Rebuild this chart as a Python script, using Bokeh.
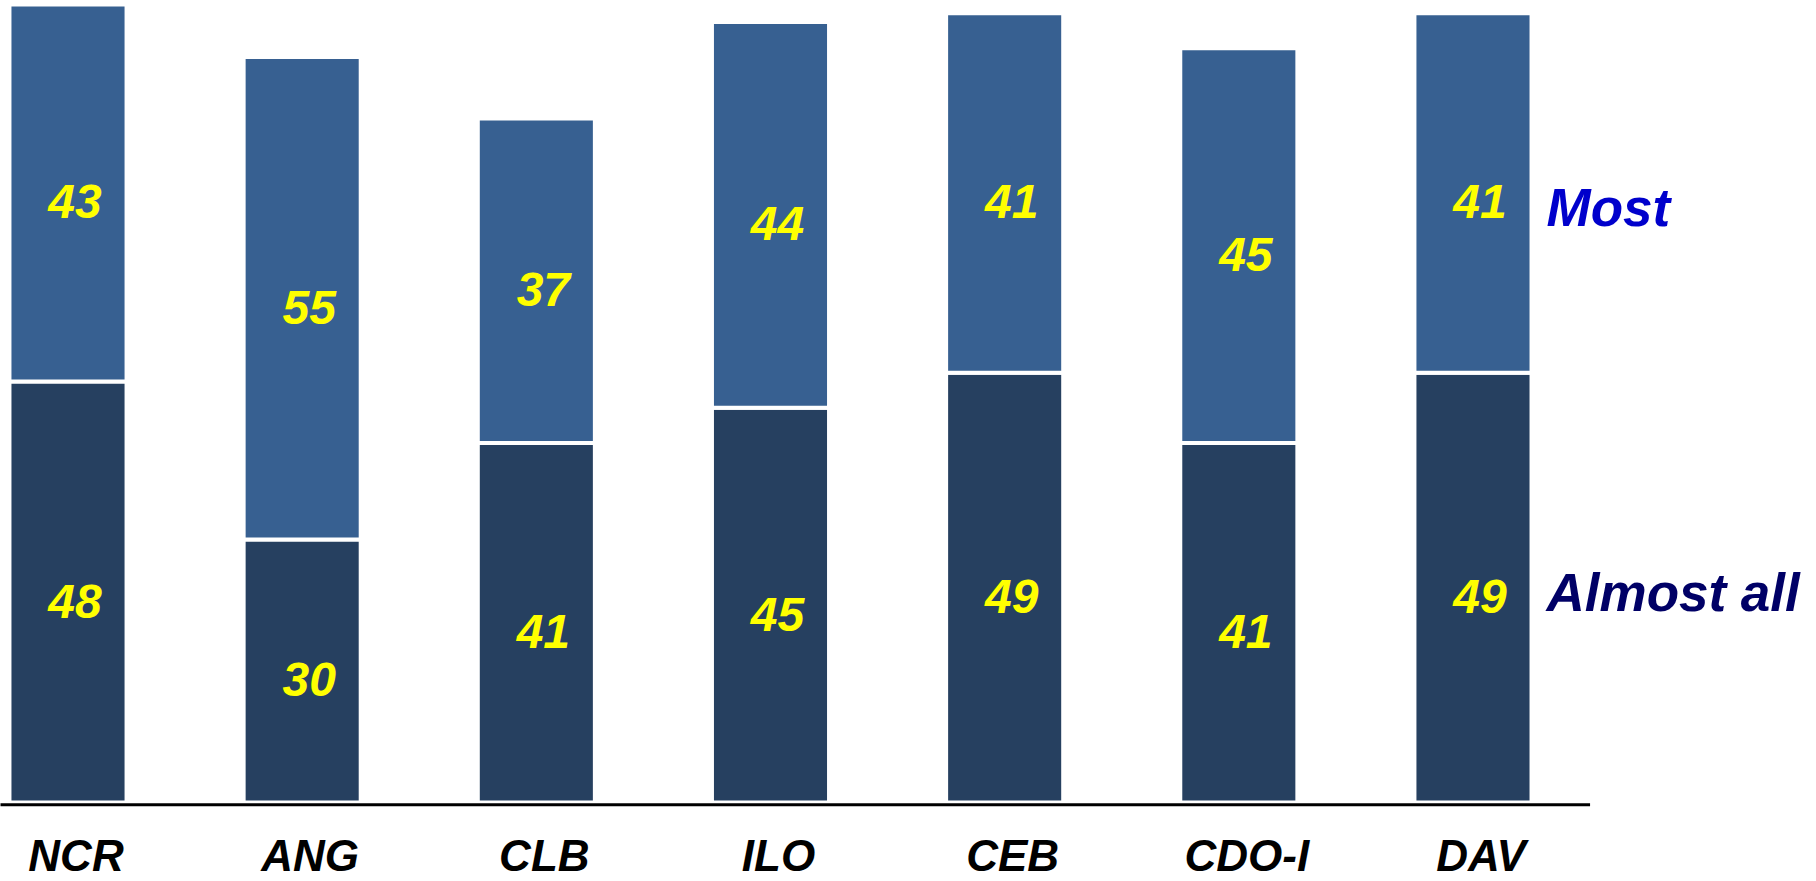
from bokeh.plotting import figure
from bokeh.models import ColumnDataSource, Range1d, Label
from bokeh.core.properties import value
from bokeh.embed import file_html
from bokeh.resources import INLINE

# ---- data ----
regions = ["NCR", "ANG", "CLB", "ILO", "CEB", "CDO-I", "DAV"]
almost_all = [48, 30, 41, 45, 49, 41, 49]
most = [43, 55, 37, 44, 41, 45, 41]
series_names = ["Almost all", "Most"]

# ---- styles ----
DARK = "#264060"
LIGHT = "#376091"
YELLOW = "#FFFF00"
FONT_NAME = "Liberation Sans"
FONT = value(FONT_NAME)
AXIS_GAP = 0.25   # white gap between bar bottoms and the base line (data units)

x = list(range(len(regions)))
tops = [a + m for a, m in zip(almost_all, most)]
src = ColumnDataSource(dict(
    x=x,
    region=regions,
    aa=almost_all,
    top=tops,
    aa_mid=[a / 2 for a in almost_all],
    most_mid=[a + m / 2 for a, m in zip(almost_all, most)],
    aa_txt=[str(v) for v in almost_all],
    most_txt=[str(v) for v in most],
))

p = figure(width=1816, height=881,
           x_range=Range1d(-0.2883, 7.467), y_range=Range1d(-9.008, 91.448),
           output_backend="svg", toolbar_location=None,
           x_axis_location=None, y_axis_location=None,
           min_border=0, min_border_left=0, min_border_right=0,
           min_border_top=0, min_border_bottom=0)
p.outline_line_color = None
p.xgrid.grid_line_color = None
p.ygrid.grid_line_color = None
p.background_fill_color = "white"
p.border_fill_color = "white"

# stacked bars
p.vbar(x="x", width=0.5, bottom=0, top="aa", source=src,
       fill_color=DARK, line_color="white", line_width=4)
p.vbar(x="x", width=0.5, bottom="aa", top="top", source=src,
       fill_color=LIGHT, line_color="white", line_width=4)

# category base line
n = len(regions)
p.segment(x0=[-0.5 - 1], y0=[-AXIS_GAP], x1=[n - 0.5], y1=[-AXIS_GAP],
          line_color="black", line_width=3)

# value labels
for ycol, tcol in (("aa_mid", "aa_txt"), ("most_mid", "most_txt")):
    p.text(x="x", y=ycol, text=tcol, source=src,
           text_align="center", text_baseline="middle",
           text_color=YELLOW, text_font=FONT, text_font_style="bold italic",
           text_font_size="48px", x_offset=7, y_offset=9)

# category labels under the base line
p.text(x="x", y=0, text="region", source=src,
       text_align="center", text_baseline="middle",
       text_color="black", text_font=FONT, text_font_style="bold italic",
       text_font_size="44px", x_offset=8, y_offset=53)

# series labels at the right
p.add_layout(Label(x=6.314, y=67.84, text=series_names[1], text_align="left",
                   text_baseline="middle", text_color="#0000CC",
                   text_font=FONT_NAME, text_font_style="bold italic",
                   text_font_size="53px"))
p.add_layout(Label(x=6.314, y=23.94, text=series_names[0], text_align="left",
                   text_baseline="middle", text_color="#000066",
                   text_font=FONT_NAME, text_font_style="bold italic",
                   text_font_size="53px"))

open("out.html", "w").write(file_html(p, INLINE))
